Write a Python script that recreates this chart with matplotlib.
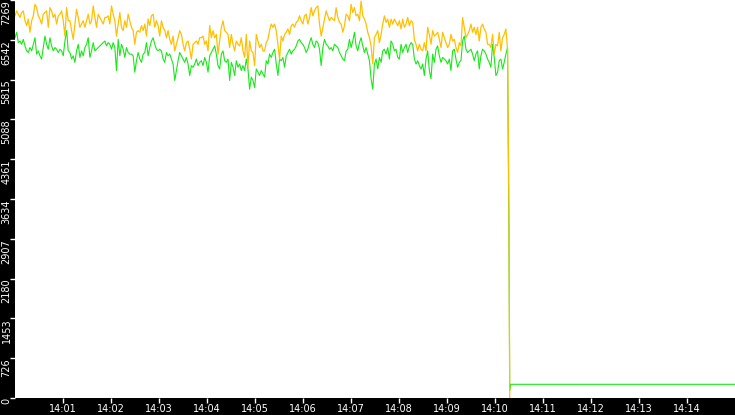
import pandas as pd
import matplotlib.pyplot as plt
import matplotlib.dates as mdates

start = pd.Timestamp('2024-01-01 14:00:00')
step_s = 2.08

orange = [
    6980, 7070, 7010, 6950, 7040, 7070, 6890, 6800, 6920, 6680,
    6890, 6980, 7190, 7130, 6980, 6920, 6830, 7010, 7040, 7070,
    6770, 7130, 7070, 6950, 7010, 6830, 6980, 7010, 7070, 6890,
    6610, 7130, 6890, 6890, 6710, 6550, 6830, 7100, 6950, 6770,
    6830, 6890, 6770, 6890, 7010, 6830, 6890, 7160, 6950, 6770,
    7010, 6950, 6890, 6830, 6950, 6950, 6980, 6830, 7160, 7010,
    6890, 6610, 6830, 7040, 6770, 6710, 6890, 6770, 7010, 6890,
    6770, 6710, 6460, 6680, 6710,
    6680, 6800, 6710, 6830, 6610, 6920, 6800, 6980, 7010, 6770,
    6890, 6800, 6610, 6890, 6770, 6710, 6580, 6710, 6550, 6460,
    6610, 6340, 6460, 6580, 6710, 6640, 6460, 6340, 6490, 6520,
    6370, 6190, 6460, 6490, 6520, 6460, 6580, 6580, 6610, 6460,
    6520, 6340, 6800, 6580, 6710, 6580, 6640, 6280, 6520, 6770,
    6890, 6710, 6680, 6640, 6400, 6640, 6460, 6340, 6520, 6460,
    6430, 6580, 6340, 6220, 6640, 6040, 6520, 6340, 6310, 6070,
    6640, 6520, 6400, 6460, 6340,
    6340, 6490, 6550, 6710, 6830, 6770, 6830, 6710, 6460, 6190,
    6610, 6520, 6640, 6680, 6740, 6640, 6800, 6830, 6770, 6860,
    6890, 6980, 6890, 6830, 6980, 7010, 6830, 6950, 7130, 6980,
    7070, 7130, 7160, 6830, 6610, 6770, 6920, 7070, 6980, 6890,
    6950, 6920, 6890, 7130, 6950, 6860, 6830, 6680, 6800, 7010,
    6980, 6890, 7190, 7040, 7130, 6980, 7010, 6890, 7250, 6980,
    6920, 6830, 6680, 6580, 6430, 6100, 6580, 6640, 6710, 6490,
    6640, 6830, 6980, 6860, 6920,
    6770, 6920, 6830, 6920, 6860, 6800, 6890, 6740, 6920, 6770,
    6830, 6950, 6800, 6890, 6860, 6550, 6460, 6340, 6460, 6370,
    6340, 6490, 6340, 6770, 6640, 6460, 6710, 6610, 6640, 6680,
    6550, 6400, 6680, 6580, 6490, 6400, 6460, 6640, 6520, 6550,
    6400, 6310, 6490, 6430, 6950, 6770, 6580, 6640, 6710, 6830,
    6680, 6770, 6640, 6770, 6520, 6770, 6830, 6740, 6680, 6460,
    6460, 6400, 6640, 6280, 6460, 6430, 6680, 6340, 6580, 6640,
    6740, 6370,
]

green = [
    6580, 6680, 6490, 6520, 6460, 6550, 6430, 6340, 6310, 6400,
    6340, 6460, 6580, 6280, 6340, 6250, 6190, 6400, 6610, 6460,
    6370, 6580, 6430, 6340, 6400, 6370, 6310, 6370, 6340, 6250,
    6520, 6710, 6340, 6310, 6190, 6250, 6130, 6340, 6460, 6220,
    6340, 6250, 6400, 6460, 6580, 6220, 6340, 6490, 6340, 6370,
    6400, 6430, 6460, 6490, 6520, 6430, 6490, 6460, 6370, 6490,
    6400, 5980, 6550, 6250, 6460, 6370, 6220, 6400, 6310, 6280,
    6280, 6250, 5950, 6160, 6310,
    6190, 6130, 6280, 6310, 6490, 6250, 6400, 6520, 6580, 6460,
    6370, 6340, 6370, 6340, 6190, 6130, 6310, 6250, 6280, 6190,
    6100, 5800, 5980, 6160, 6310, 6250, 6190, 6130, 6220, 6100,
    5890, 6070, 6040, 6100, 6190, 6070, 6130, 6160, 6070, 6220,
    6130, 5950, 6250, 6310, 6370, 6430, 6280, 6070, 6010, 6280,
    6340, 6160, 6130, 6190, 5800, 6130, 6040, 5890, 6160, 6040,
    6100, 5980, 6070, 5980, 6190, 6010, 5640, 5860, 5800, 5670,
    6010, 5950, 5890, 5980, 5920,
    5860, 6160, 6100, 6280, 6220, 6310, 6370, 6100, 5890, 6190,
    6160, 6220, 6040, 6250, 6310, 6370, 6280, 6340, 6370, 6430,
    6520, 6550, 6490, 6460, 6400, 6310, 6370, 6490, 6580, 6460,
    6400, 6520, 6490, 6370, 6070, 6400, 6550, 6460, 6430, 6370,
    6400, 6340, 6460, 6430, 6400, 6310, 6250, 6190, 6160, 6340,
    6370, 6550, 6400, 6520, 6680, 6430, 6340, 6490, 6580, 6430,
    6310, 6400, 6280, 6160, 5830, 5640, 6100, 6190, 6010, 6220,
    6130, 6340, 6370, 6280, 6400,
    6190, 6520, 6460, 6340, 6370, 6220, 6190, 6460, 6310, 6400,
    6460, 6310, 6430, 6490, 6460, 6190, 6100, 6160, 6070, 6010,
    6100, 5890, 6190, 6340, 5980, 5830, 6280, 6130, 6370, 6430,
    6250, 6130, 6220, 6190, 6160, 6100, 6190, 5980, 6340, 6370,
    6190, 6040, 6130, 6160, 6520, 6610, 6370, 6310, 6340, 6370,
    6280, 6160, 6280, 6340, 6010, 6250, 6370, 6340, 6280, 6190,
    6130, 6040, 6460, 6220, 5890, 5950, 6160, 6190, 6010, 6130,
    6280, 6400,
]

# The drop at ~14:10:20 and the flat line afterwards (seconds after 14:00)
orange_tail_s = [617.6, 618.4]
orange_tail = [3200, 0]
green_tail_s = [617.4, 618.4, 619.8, 900.0]
green_tail = [3000, 130, 250, 250]

y_ticks = [0, 726.9, 1453.8, 2180.7, 2907.6, 3634.5, 4361.4, 5088.3, 5815.2, 6542.1, 7269]
y_labels = ['0', '726', '1453', '2180', '2907', '3634', '4361', '5088', '5815', '6542', '7269']
x_tick_minutes = list(range(1, 15))

# Build time axes
t_orange = [start + pd.Timedelta(seconds=i * step_s) for i in range(len(orange))]
t_orange += [start + pd.Timedelta(seconds=s) for s in orange_tail_s]
t_green = [start + pd.Timedelta(seconds=i * step_s) for i in range(len(green))]
t_green += [start + pd.Timedelta(seconds=s) for s in green_tail_s]

fig = plt.figure(figsize=(7.35, 4.15), dpi=100, facecolor='black')
ax = fig.add_axes([15 / 735, 17 / 415, 720 / 735, 398 / 415])
ax.set_facecolor('white')

ax.plot(t_green, green + green_tail, color='#18E818', linewidth=0.8)
ax.plot(t_orange, orange + orange_tail, color='#FFC000', linewidth=0.9)

ax.set_xlim(start, start + pd.Timedelta(minutes=15))
ax.set_ylim(0, 7269)

ax.set_xticks([start + pd.Timedelta(minutes=m) for m in x_tick_minutes])
ax.xaxis.set_major_formatter(mdates.DateFormatter('%H:%M'))
ax.set_yticks(y_ticks)
ax.set_yticklabels(y_labels, rotation=90, va='top')

ax.tick_params(axis='both', colors='white', labelcolor='white', labelsize=7,
               length=3.5, width=1, direction='out')
ax.tick_params(axis='x', pad=1)
ax.tick_params(axis='y', pad=-1)

for spine in ax.spines.values():
    spine.set_visible(False)

fig.savefig('out.png', dpi=100, facecolor='black')
